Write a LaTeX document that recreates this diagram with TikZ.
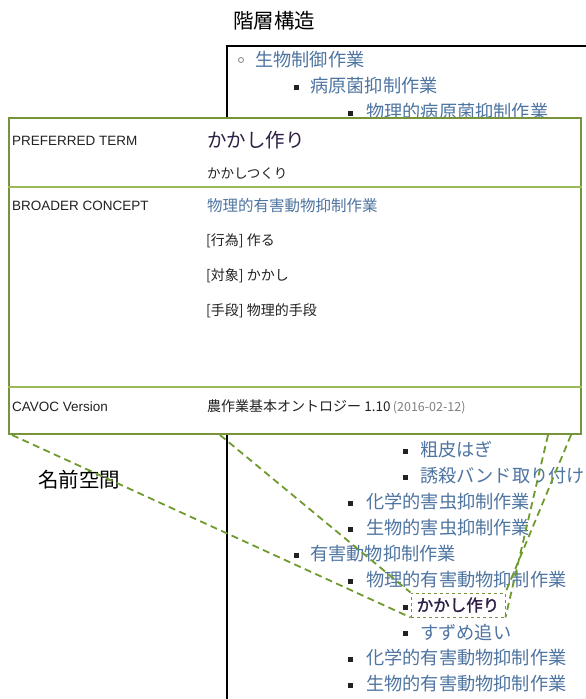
\documentclass[tikz,border=0pt]{standalone}
\usepackage{fontspec}
\setmainfont{Liberation Sans}
\newfontfamily\jp{Noto Sans CJK JP}
\newfontfamily\jpbold[FakeBold=1.6]{Noto Sans CJK JP}
\definecolor{hblue}{HTML}{4E74A0}
\definecolor{gborder}{HTML}{77933C}
\definecolor{gline}{HTML}{9BBB59}
\definecolor{gdash}{HTML}{6F9A2E}
\definecolor{kdark}{HTML}{2E1F45}
\definecolor{txt}{HTML}{222222}
\begin{document}
\begin{tikzpicture}[x=1pt,y=-1pt,
  hier/.style={anchor=west,inner sep=0pt,text=hblue,font=\jp\fontsize{18.2}{20}\selectfont},
  sqb/.style={fill=txt,minimum size=5pt,inner sep=0pt},
  lbl/.style={anchor=west,inner sep=0pt,text=txt,font=\fontsize{13.5}{15}\selectfont},
  val/.style={anchor=west,inner sep=0pt,text=txt,font=\jp\fontsize{14}{16}\selectfont},
  big/.style={anchor=center,inner sep=0pt,text=black,font=\jp\fontsize{20.5}{24}\selectfont},
  callout/.style={gdash,line width=1.8pt,dash pattern=on 7pt off 4.5pt}
]
\useasboundingbox (0,0) rectangle (586,699);
% title
\node[big] (title) at (274,21) {階層構造};
% hierarchy frame
\draw[line width=1.8pt,black] (586,46) -- (227,46) -- (227,699);
% items
\node[draw=gray,line width=0.8pt,circle,minimum size=5pt,inner sep=0pt] (b0) at (241,60) {};
\node[hier] (t0) at (255,60) {生物制御作業};
\node[sqb] (b1) at (296,87) {};
\node[hier] (t1) at (310,86) {病原菌抑制作業};
\node[sqb] (b2) at (350,113) {};
\node[hier] (t2) at (366,112) {物理的病原菌抑制作業};
\node[sqb] (b15) at (405,451) {};
\node[hier] (t15) at (420,450) {粗皮はぎ};
\node[sqb] (b16) at (405,477) {};
\node[hier] (t16) at (420,476) {誘殺バンド取り付け};
\node[sqb] (b17) at (350,503) {};
\node[hier] (t17) at (366,502) {化学的害虫抑制作業};
\node[sqb] (b18) at (350,529) {};
\node[hier] (t18) at (366,528) {生物的害虫抑制作業};
\node[sqb] (b19) at (296,555) {};
\node[hier] (t19) at (310,554) {有害動物抑制作業};
\node[sqb] (b20) at (350,581) {};
\node[hier] (t20) at (366,580) {物理的有害動物抑制作業};
\node[sqb] (b21) at (405,607) {};
\node[draw=gborder,dashed,line width=0.9pt,minimum width=94pt,minimum height=24pt,inner sep=0pt,text=kdark,font=\jpbold\fontsize{16.5}{18}\selectfont] (kk) at (458,605) {かかし作り};
\node[sqb] (b22) at (405,633) {};
\node[hier] (t22) at (420,632) {すずめ追い};
\node[sqb] (b23) at (350,659) {};
\node[hier] (t23) at (366,658) {化学的有害動物抑制作業};
\node[sqb] (b24) at (350,685) {};
\node[hier] (t24) at (366,684) {生物的有害動物抑制作業};
% card
\node[draw=gborder,fill=white,line width=2pt,minimum width=572pt,minimum height=316pt,inner sep=0pt,anchor=north west] (card) at (8,117) {};
\draw[gline,line width=1.5pt] (card.west |- 0,187) coordinate (l1a) -- (card.east |- 0,187) coordinate (l1b);
\draw[gline,line width=1.5pt] (card.west |- 0,387) coordinate (l2a) -- (card.east |- 0,387) coordinate (l2b);
\node[lbl] (lpt) at (12,141) {PREFERRED TERM};
\node[anchor=west,inner sep=0pt,text=kdark,font=\jp\fontsize{19.5}{22}\selectfont] (vpt) at (207,140) {かかし作り};
\node[val,font=\jp\fontsize{13.5}{16}\selectfont] (vrd) at (207,174) {かかしつくり};
\node[lbl] (lbc) at (12,206) {BROADER CONCEPT};
\node[val,text=hblue,font=\jp\fontsize{15.5}{18}\selectfont] (vbc) at (207,206) {物理的有害動物抑制作業};
\node[val] (v1) at (206,241) {[行為] 作る};
\node[val] (v2) at (206,276) {[対象] かかし};
\node[val] (v3) at (206,311) {[手段] 物理的手段};
\node[lbl] (lcv) at (12,407) {CAVOC Version};
\node[val] (vcv) at (207,407) {農作業基本オントロジー {\fontsize{13.5}{15}\selectfont 1.10}\,{\color{gray}\fontsize{12.5}{14}\selectfont (2016-02-12)}};
% namespace label
\node[big] (ns) at (79,480) {名前空間};
% callout lines
\coordinate (c1) at (12,435);
\coordinate (c2) at (220,435);
\coordinate (c3) at (548,435);
\coordinate (c4) at (571,435);
\draw[callout] (c1) -- (kk.south west);
\draw[callout] (c2) -- (kk.north west);
\draw[callout] (c3) -- (kk.south east);
\draw[callout] (c4) -- (kk.north east);
\end{tikzpicture}
\end{document}
